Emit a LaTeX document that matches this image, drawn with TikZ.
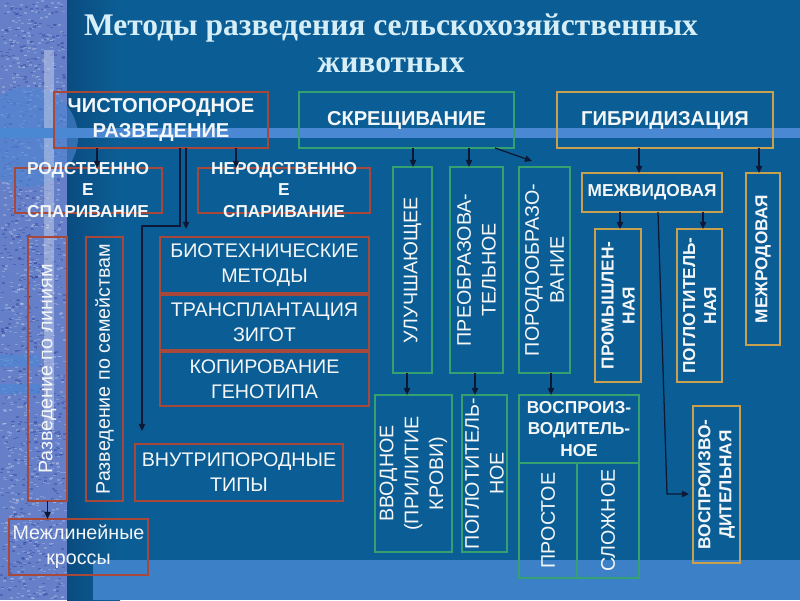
\documentclass[tikz,border=0pt]{standalone}
\usepackage{fontspec}
\usepackage{graphicx}
\setmainfont{Liberation Serif}
\newfontfamily\arialf{Liberation Sans}
\usetikzlibrary{arrows.meta,calc}
\definecolor{bgdark}{HTML}{0B5E95}
\definecolor{bgshadow}{HTML}{0A4C80}
\definecolor{strip}{HTML}{6580C8}
\definecolor{band}{HTML}{4A88D4}
\definecolor{bottomband}{HTML}{3C80C8}
\definecolor{redb}{HTML}{A8483A}
\definecolor{greenb}{HTML}{35A070}
\definecolor{goldb}{HTML}{C9A04E}
\definecolor{arrowc}{HTML}{0C1834}
\definecolor{titlec}{HTML}{D5EEF8}
\definecolor{txtc}{HTML}{F4F6F8}
\newdimen\pxu \pxu=0.025cm
\newcommand\bbox[6]{\node[#1, minimum width={(#5-(#3))*0.025cm}, minimum height={(#6-(#4))*0.025cm}] (#2) at ({(#3+#5)/2},{(#4+#6)/2}) {};}
\tikzset{
  frame/.style={draw, line width=2pt, inner sep=0pt, outer sep=0pt},
  redbox/.style={frame, draw=redb},
  greenbox/.style={frame, draw=greenb},
  goldbox/.style={frame, draw=goldb},
  hdr/.style={font=\arialf\bfseries\fontsize{14.3}{17.7}\selectfont, text=txtc, align=center, inner sep=0pt},
  tb/.style={font=\arialf\bfseries\fontsize{12.3}{15}\selectfont, text=txtc, align=center, inner sep=0pt},
  tn/.style={font=\arialf\fontsize{14}{17.7}\selectfont, text=txtc, align=center, inner sep=0pt},
  ttl/.style={font=\bfseries\fontsize{22.4}{26}\selectfont, text=titlec, inner sep=0pt},
  arr/.style={draw=arrowc, line width=0.9pt, -{Triangle[length=5pt,width=4.5pt]}},
  ln/.style={draw=arrowc, line width=0.9pt},
}
\begin{document}
\begin{tikzpicture}[x=0.025cm,y=-0.025cm]
\useasboundingbox (0,0) rectangle (800,600);
% background
\fill[bgdark] (0,0) rectangle (800,600);
\shade[left color=bgshadow, right color=bgdark] (67,0) rectangle (120,600);
\fill[strip] (0,0) rectangle (67,600);
\pgfmathsetseed{7}
\foreach \i in {1,...,900}{
  \pgfmathsetmacro\xx{rnd*64}\pgfmathsetmacro\yy{rnd*598}
  \fill[white, opacity=0.22] (\xx,\yy) rectangle ++(3,1.4);
}
\foreach \i in {1,...,700}{
  \pgfmathsetmacro\xx{rnd*64}\pgfmathsetmacro\yy{rnd*598}
  \fill[black!60!blue, opacity=0.2] (\xx,\yy) rectangle ++(3,1.4);
}
\fill[band!80!strip, opacity=0.6] (28,137) circle (50);
\fill[white!70!strip, opacity=0.45] (44,50) rectangle (54,430);
\fill[band, opacity=0.6] (0,355) rectangle (40,367);
\fill[band, opacity=0.6] (0,384) rectangle (40,394);
\fill[band] (0,128) rectangle (800,138);
\fill[bottomband] (93,560) rectangle (800,600);
% title
\node[ttl, anchor=base] (title1) at (391,35) {Методы разведения сельскохозяйственных};
\node[ttl, anchor=base] (title2) at (391,72) {животных};
% boxes
\bbox{redbox}{chist}{54}{92}{268}{148}
\bbox{greenbox}{skr}{299}{92}{514}{148}
\bbox{goldbox}{gib}{557}{92}{773}{148}
\bbox{redbox}{rod}{15}{168}{162}{213}
\bbox{redbox}{nerod}{198}{168}{370}{213}
\bbox{redbox}{lin}{28}{237}{67}{501}
\bbox{redbox}{sem}{86}{237}{123}{501}
\bbox{redbox}{bio}{160}{237}{369}{293}
\bbox{redbox}{trans}{160}{295}{369}{350}
\bbox{redbox}{kop}{160}{352}{369}{406}
\bbox{redbox}{intra}{135}{444}{343}{501}
\bbox{redbox}{cross}{9}{519}{148}{575}
\bbox{greenbox}{ulu}{393}{167}{432}{373}
\bbox{greenbox}{pre}{450}{167}{503}{373}
\bbox{greenbox}{por}{519}{167}{570}{373}
\bbox{greenbox}{vvod}{375}{395}{452}{552}
\bbox{greenbox}{pog}{462}{395}{507}{552}
\bbox{greenbox}{vosp}{519}{395}{639}{463}
\bbox{greenbox}{prost}{519}{463}{577}{578}
\bbox{greenbox}{slozh}{577}{463}{639}{578}
\bbox{goldbox}{mejv}{582}{173}{722}{212}
\bbox{goldbox}{mejr}{746}{173}{780}{345}
\bbox{goldbox}{prom}{595}{229}{641}{382}
\bbox{goldbox}{pogl}{677}{229}{722}{382}
\bbox{goldbox}{vospd}{693}{406}{740}{563}
% texts
\node[hdr] (chist-t) at (chist) {ЧИСТОПОРОДНОЕ\\РАЗВЕДЕНИЕ};
\node[hdr] (skr-t) at (skr) {СКРЕЩИВАНИЕ};
\node[hdr] (gib-t) at (gib) {ГИБРИДИЗАЦИЯ};
\node[tb] (rod-t) at (88,190) {РОДСТВЕННО\\Е\\СПАРИВАНИЕ};
\node[tb] (nerod-t) at (284,190) {НЕРОДСТВЕННО\\Е\\СПАРИВАНИЕ};
\node[tn, rotate=90] (lin-t) at (lin) {Разведение по линиям};
\node[tn, rotate=90] (sem-t) at (sem) {Разведение по семействам};
\node[tn] (bio-t) at (bio) {БИОТЕХНИЧЕСКИЕ\\МЕТОДЫ};
\node[tn] (trans-t) at (trans) {ТРАНСПЛАНТАЦИЯ\\ЗИГОТ};
\node[tn] (kop-t) at (kop) {КОПИРОВАНИЕ\\ГЕНОТИПА};
\node[tn] (intra-t) at (intra) {ВНУТРИПОРОДНЫЕ\\ТИПЫ};
\node[tn] (cross-t) at (cross) {Межлинейные\\кроссы};
\node[tn, rotate=90] (ulu-t) at (ulu) {УЛУЧШАЮЩЕЕ};
\node[tn, rotate=90] (pre-t) at (pre) {ПРЕОБРАЗОВА-\\ТЕЛЬНОЕ};
\node[tn, rotate=90] (por-t) at (por) {ПОРОДООБРАЗО-\\ВАНИЕ};
\node[tn, rotate=90] (vvod-t) at (vvod) {ВВОДНОЕ\\(ПРИЛИТИЕ\\КРОВИ)};
\node[tn, rotate=90] (pog-t) at (pog) {ПОГЛОТИТЕЛЬ-\\НОЕ};
\node[tb] (vosp-t) at (vosp) {ВОСПРОИЗ-\\ВОДИТЕЛЬ-\\НОЕ};
\node[tn, rotate=90] (prost-t) at (prost) {ПРОСТОЕ};
\node[tn, rotate=90] (slozh-t) at (slozh) {СЛОЖНОЕ};
\node[tb] (mejv-t) at (mejv) {МЕЖВИДОВАЯ};
\node[tb, rotate=90] (mejr-t) at (mejr) {МЕЖРОДОВАЯ};
\node[tb, rotate=90] (prom-t) at (prom) {ПРОМЫШЛЕН-\\НАЯ};
\node[tb, rotate=90] (pogl-t) at (pogl) {ПОГЛОТИТЕЛЬ-\\НАЯ};
\node[tb, rotate=90] (vospd-t) at (vospd) {ВОСПРОИЗВО-\\ДИТЕЛЬНАЯ};
% connectors
\coordinate (diagend) at (532,161);
\draw[arr] (chist.south -| 97,0) -- (rod.north -| 97,0);
\draw[arr] (chist.south -| 236,0) -- (nerod.north -| 236,0);
\draw[arr, shorten >=8\pxu] (chist.south -| 186,0) -- (bio.north -| 186,0);
\draw[arr, shorten >=13\pxu] (chist.south -| 180,0) -- (180,226) -- (142,226) -- (intra.north -| 142,0);
\draw[arr] (lin.south) -- (cross.north -| lin.south);
\draw[arr] (skr.south -| 413,0) -- (ulu.north -| 413,0);
\draw[arr] (skr.south -| 469,0) -- (pre.north -| 469,0);
\draw[arr] (skr.south -| 495,0) -- (diagend);
\draw[arr] (ulu.south -| 407,0) -- (vvod.north -| 407,0);
\draw[arr] (pre.south -| 475,0) -- (pog.north -| 475,0);
\draw[arr] (por.south -| 551,0) -- (vosp.north -| 551,0);
\draw[arr] (gib.south -| 639,0) -- (mejv.north -| 639,0);
\draw[arr] (gib.south -| 759,0) -- (mejr.north -| 759,0);
\draw[arr] (mejv.south -| 620,0) -- (prom.north -| 620,0);
\draw[arr] (mejv.south -| 703,0) -- (pogl.north -| 703,0);
\draw[arr, shorten >=4\pxu] (mejv.south -| 658,0) -- (667,494) -- (vospd.west |- 0,494);
\end{tikzpicture}
\end{document}
